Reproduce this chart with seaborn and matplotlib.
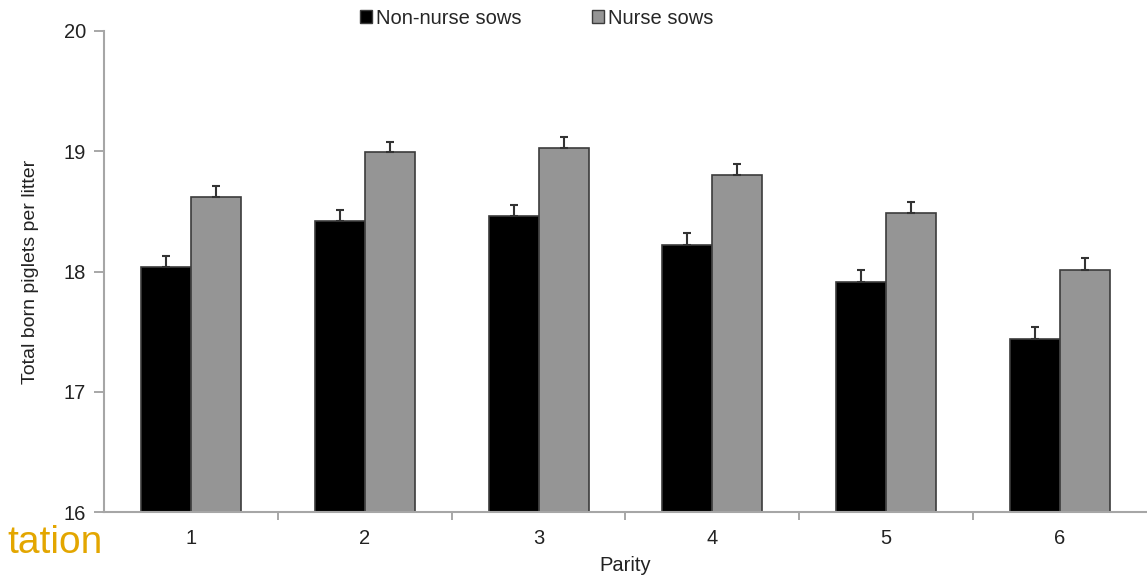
import matplotlib
matplotlib.use("Agg")
import matplotlib.pyplot as plt
import seaborn as sns
import pandas as pd
import numpy as np
from matplotlib.patches import Patch

parity = ["1", "2", "3", "4", "5", "6"]
non_nurse = [18.04, 18.42, 18.46, 18.22, 17.91, 17.44]
non_nurse_err = [0.09, 0.09, 0.09, 0.10, 0.10, 0.10]
nurse = [18.62, 18.99, 19.03, 18.80, 18.49, 18.01]
nurse_err = [0.09, 0.09, 0.09, 0.09, 0.09, 0.10]
groups = ["Non-nurse sows", "Nurse sows"]
yticks = [16, 17, 18, 19, 20]

sns.set_theme(style="white")
plt.rcParams['font.family'] = ['Liberation Sans', 'DejaVu Sans']

df = pd.DataFrame({
    "Parity": parity * 2,
    "value": non_nurse + nurse,
    "group": [groups[0]] * 6 + [groups[1]] * 6,
})

fig = plt.figure(figsize=(11.47, 5.79), dpi=100)
ax = fig.add_axes([104/1147, 1 - 512/579, 1 - 104/1147, (512 - 31)/579])

colors = ["#000000", "#959595"]
sns.barplot(data=df, x="Parity", y="value", hue="group", order=parity,
            hue_order=groups, palette=colors, width=0.575, saturation=1,
            edgecolor="#3c3c3c", linewidth=1.2, ax=ax, legend=False, errorbar=None)

# one-sided (upward) error bars at the centres of the drawn bars
errs = non_nurse_err + nurse_err
vals = non_nurse + nurse
patches = sorted(ax.patches, key=lambda p: (round(p.get_facecolor()[0], 2), p.get_x()))
for p, v, e in zip(patches, vals, errs):
    cx = p.get_x() + p.get_width() / 2
    ax.errorbar([cx], [v], yerr=[[0], [e]], fmt="none", ecolor="#333333",
                elinewidth=1.5, capsize=3, capthick=1.5, zorder=3)

ax.set_ylim(16, 20)
ax.set_xlim(-0.5, 5.5)
ax.set_yticks(yticks)
ax.set_yticklabels([str(t) for t in yticks], fontsize=14.5, color="#222222")
ax.set_xticks(range(6))
ax.set_xticklabels(parity, fontsize=14.5, color="#222222")
ax.set_xticks(np.arange(0.5, 5.0, 1.0), minor=True)
ax.tick_params(axis="x", which="major", length=0, pad=12)
ax.tick_params(axis="x", which="minor", length=6, width=1.3, color="#a0a0a0", direction="out")
ax.tick_params(axis="y", which="major", length=7, width=1.3, color="#a0a0a0", direction="out", pad=6)
ax.xaxis.set_tick_params(bottom=True, which="both")
ax.yaxis.set_tick_params(left=True)

for s in ["top", "right"]:
    ax.spines[s].set_visible(False)
for s in ["left", "bottom"]:
    ax.spines[s].set_color("#a6a6a6")
    ax.spines[s].set_linewidth(1.5)

ax.set_xlabel("Parity", fontsize=14.5, color="#222222", labelpad=6)
ax.set_ylabel("Total born piglets per litter", fontsize=14, color="#222222", labelpad=18)

handles = [Patch(facecolor=c, edgecolor="#3c3c3c", linewidth=1) for c in colors]
fig.legend(handles, groups, loc="center", bbox_to_anchor=(0.468, 1 - 18/579), ncol=2,
           frameon=False, fontsize=14.5, handlelength=0.6, handleheight=0.6,
           handletextpad=0.2, columnspacing=3.5)

fig.text(103/1147, 1 - 553/579, "tation", fontsize=28, color="#E3A600", ha="right", va="baseline")

fig.savefig("out.png", dpi=100)
